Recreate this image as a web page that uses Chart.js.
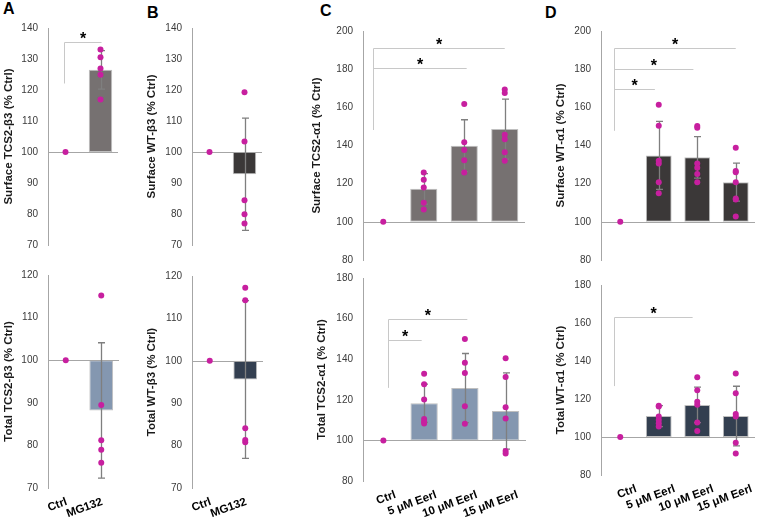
<!DOCTYPE html>
<html>
<head>
<meta charset="utf-8">
<script src="https://cdn.jsdelivr.net/npm/chart.js@4.4.1/dist/chart.umd.min.js"></script>
<style>
  html, body { margin: 0; padding: 0; background: #fff; }
  #fig { position: relative; width: 760px; height: 523px; overflow: hidden; font-family: 'Liberation Sans', Arial, sans-serif; }
  #fig canvas { position: absolute; }
  .letter { position: absolute; font-weight: bold; font-size: 16px; line-height: 16px; color: #000; }
</style>
</head>
<body>
<div id="fig">
  <div class="letter" style="left:3px;top:1px">A</div>
  <div class="letter" style="left:147px;top:5px">B</div>
  <div class="letter" style="left:320px;top:3px">C</div>
  <div class="letter" style="left:545px;top:5px">D</div>
</div>
<script>
'use strict';
const twoGroups = ['Ctrl', 'MG132'];
const fourGroups = ['Ctrl', '5 μM Eerl', '10 μM Eerl', '15 μM Eerl'];

// A - beta3 TCS2 (surface / total)
const surfTcsB3Mean = [100, 126.5];
const surfTcsB3Sd = [0, 6.2];
const surfTcsB3Pts = [[100], [133.1, 130.6, 126.9, 124.9, 116.9]];
const totTcsB3Mean = [100, 88.2];
const totTcsB3Sd = [0, 15.9];
const totTcsB3Pts = [[100], [115.2, 89.5, 81.2, 79.0, 75.9]];

// B - beta3 WT
const surfWtB3Mean = [100, 92.8];
const surfWtB3Sd = [0, 18.1];
const surfWtB3Pts = [[100], [119.3, 103.4, 84.4, 79.9, 76.9]];
const totWtB3Mean = [100, 95.6];
const totWtB3Sd = [0, 18.6];
const totWtB3Pts = [[100], [117.2, 114.3, 84.1, 81.3, 80.8]];

// C - alpha1 TCS2
const surfTcsA1Mean = [100, 117.3, 139.9, 148.6];
const surfTcsA1Sd = [0, 8.0, 13.6, 15.7];
const surfTcsA1Pts = [[100], [125.8, 122.1, 118.0, 110.0, 106.4], [161.8, 141.7, 137.6, 132.3, 125.8], [169.3, 167.5, 145.6, 143.3, 136.4, 132.0]];
const totTcsA1Mean = [100, 118.3, 125.8, 114.5];
const totTcsA1Sd = [0, 9.4, 17.0, 18.8];
const totTcsA1Pts = [[100], [132.8, 127.7, 120.2, 110.5, 109.3, 108.3], [150.0, 138.2, 133.2, 116.8, 108.2], [140.5, 131.2, 116.3, 110.8, 94.8, 93.5]];

// D - alpha1 WT
const surfWtA1Mean = [100, 134.8, 133.8, 120.8];
const surfWtA1Sd = [0, 17.8, 10.9, 10.0];
const surfWtA1Pts = [[100], [161.3, 150.3, 132.0, 130.6, 120.8, 115.0], [150.2, 149.3, 130.6, 128.3, 125.1, 120.8], [138.8, 126.7, 126.0, 120.8, 112.2, 111.7, 102.8]];
const totWtA1Mean = [100, 111.0, 116.9, 111.0];
const totWtA1Sd = [0, 5.5, 9.3, 15.7];
const totWtA1Pts = [[100], [116.5, 116.0, 110.8, 108.9, 107.3, 105.5], [131.4, 124.6, 118.5, 117.0, 107.6, 103.2], [133.4, 123.0, 112.1, 110.8, 97.0, 91.3]];

// significance brackets: from/to in category units, level and foot in % Ctrl
const surfTcsB3Sig = [{from: -0.03, to: 1.03, level: 135.5, foot: 122.1}];
const surfTcsA1Sig = [{from: -0.26, to: 3.0, level: 191, foot: 148.2}, {from: -0.26, to: 2.06, level: 180.4, foot: 148.2}];
const totTcsA1Sig = [{from: 0.11, to: 2.06, level: 159.6, foot: 126}, {from: 0.11, to: 0.94, level: 149.6, foot: 126}];
const surfWtA1Sig = [{from: -0.16, to: 3.0, level: 191, foot: 147.9}, {from: -0.16, to: 1.9, level: 180.2, foot: 147.9}, {from: -0.16, to: 0.9, level: 169.4, foot: 147.9}];
const totWtA1Sig = [{from: -0.15, to: 1.88, level: 163.3, foot: 126.8}];

const FONT = "'Liberation Sans', Arial, sans-serif";
const DOT = '#C71F9F';
const fig = document.getElementById('fig');

function extrasFor(mean, sd, sig) {
  return {
    id: 'extras',
    afterDatasetDraw(chart, args) {
      if (args.meta.type !== 'bar') return;
      const ctx = chart.ctx;
      const area = chart.chartArea;
      const x = chart.scales.x;
      const y = chart.scales.y;
      ctx.save();
      // the 100 % line
      const base = Math.round(y.getPixelForValue(100)) + 0.5;
      ctx.strokeStyle = '#A6A6A6';
      ctx.lineWidth = 1;
      ctx.beginPath();
      ctx.moveTo(area.left, base);
      ctx.lineTo(area.right, base);
      ctx.stroke();
      // error bars
      ctx.strokeStyle = '#7F7F7F';
      ctx.lineWidth = 1.3;
      sd.forEach((s, i) => {
        if (!s) return;
        const px = Math.round(x.getPixelForValue(i)) + 0.5;
        const hi = y.getPixelForValue(mean[i] + s);
        const lo = y.getPixelForValue(mean[i] - s);
        ctx.beginPath();
        ctx.moveTo(px, hi); ctx.lineTo(px, lo);
        ctx.moveTo(px - 3.5, hi); ctx.lineTo(px + 3.5, hi);
        ctx.moveTo(px - 3.5, lo); ctx.lineTo(px + 3.5, lo);
        ctx.stroke();
      });
      ctx.restore();
    },
    afterDraw(chart) {
      if (!sig) return;
      const ctx = chart.ctx;
      const x = chart.scales.x;
      const y = chart.scales.y;
      ctx.save();
      sig.forEach(b => {
        const x0 = Math.round(x.getPixelForValue(b.from)) + 0.5;
        const x1 = x.getPixelForValue(b.to);
        const yl = Math.round(y.getPixelForValue(b.level)) + 0.5;
        const yf = y.getPixelForValue(b.foot);
        ctx.strokeStyle = '#C8C8C8';
        ctx.lineWidth = 1;
        ctx.beginPath();
        ctx.moveTo(x0, yf);
        ctx.lineTo(x0, yl);
        ctx.lineTo(x1, yl);
        ctx.stroke();
        ctx.fillStyle = '#000';
        ctx.font = 'bold 16px ' + FONT;
        ctx.textAlign = 'center';
        ctx.textBaseline = 'alphabetic';
        ctx.fillText('*', (x0 + x1) / 2, yl + 1);
      });
      ctx.restore();
    }
  };
}

function makePanel(p) {
  const canvasTop = p.top - 17;
  const width = p.right - p.left;
  const height = p.labels ? 523 - canvasTop + 2 : p.bottom - p.top + 34;
  const xH = 523 - p.bottom;
  const cv = document.createElement('canvas');
  cv.width = width;
  cv.height = height;
  cv.style.left = p.left + 'px';
  cv.style.top = canvasTop + 'px';
  fig.appendChild(cv);

  const cats = p.cats;
  const pointData = [];
  p.pts.forEach((arr, i) => arr.forEach(v => pointData.push({x: cats[i], y: v})));

  new Chart(cv.getContext('2d'), {
    type: 'bar',
    data: {
      labels: cats,
      datasets: [{
        type: 'line',
        order: 0,
        data: pointData,
        showLine: false,
        pointRadius: 3,
        pointHoverRadius: 3,
        pointBorderWidth: 0,
        pointBackgroundColor: DOT,
        pointBorderColor: DOT
      }, {
        type: 'bar',
        order: 1,
        data: p.mean.map((m, i) => i === 0 ? null : [100, m]),
        backgroundColor: p.color,
        borderColor: '#BFBFBF',
        borderWidth: 1,
        borderSkipped: false,
        barPercentage: 0.67,
        categoryPercentage: 1
      }]
    },
    options: {
      responsive: false,
      animation: false,
      layout: {padding: {left: 0, right: 0, top: 10, bottom: p.labels ? 0 : 10}},
      plugins: {legend: {display: false}, tooltip: {enabled: false}},
      scales: {
        x: {
          display: !!p.labels,
          grid: {display: false, drawTicks: false},
          border: {display: false},
          ticks: {
            minRotation: 20, maxRotation: 20, autoSkip: false,
            padding: 7, labelOffset: p.labelShift,
            color: '#000', font: {family: FONT, size: 11.5, weight: 'bold'}
          },
          afterFit(s) { if (p.labels) s.height = xH; }
        },
        y: {
          min: p.min, max: p.max,
          grid: {display: false, drawTicks: false},
          border: {display: true, color: '#A6A6A6', width: 1},
          ticks: {stepSize: p.step, padding: 10, color: '#3A3A3A', font: {family: FONT, size: 10}},
          title: {display: true, text: p.title, padding: 0, color: '#1A1A1A', font: {family: FONT, size: 11.5, weight: 'bold'}},
          afterFit(s) { s.width = p.axisX - p.left; }
        }
      }
    },
    plugins: [extrasFor(p.mean, p.sd, p.sig)]
  });
}

const GREY = '#767171';
const DARK = '#3B3838';
const STEEL = '#8497B0';
const NAVY = '#333F50';

makePanel({left: 2, axisX: 48, right: 121, top: 29, bottom: 244, min: 70, max: 140, step: 10,
  cats: twoGroups, mean: surfTcsB3Mean, sd: surfTcsB3Sd, pts: surfTcsB3Pts, sig: surfTcsB3Sig,
  color: GREY, title: 'Surface TCS2-β3 (% Ctrl)'});
makePanel({left: 145, axisX: 192, right: 265, top: 29, bottom: 244, min: 70, max: 140, step: 10,
  cats: twoGroups, mean: surfWtB3Mean, sd: surfWtB3Sd, pts: surfWtB3Pts,
  color: DARK, title: 'Surface WT-β3 (% Ctrl)'});
makePanel({left: 310, axisX: 363, right: 528, top: 32, bottom: 259, min: 80, max: 200, step: 20,
  cats: fourGroups, mean: surfTcsA1Mean, sd: surfTcsA1Sd, pts: surfTcsA1Pts, sig: surfTcsA1Sig,
  color: GREY, title: 'Surface TCS2-α1 (% Ctrl)'});
makePanel({left: 554, axisX: 601, right: 758, top: 32, bottom: 259, min: 80, max: 200, step: 20,
  cats: fourGroups, mean: surfWtA1Mean, sd: surfWtA1Sd, pts: surfWtA1Pts, sig: surfWtA1Sig,
  color: DARK, title: 'Surface WT-α1 (% Ctrl)'});

makePanel({left: 2, axisX: 48, right: 122, top: 276, bottom: 486, min: 70, max: 120, step: 10,
  cats: twoGroups, mean: totTcsB3Mean, sd: totTcsB3Sd, pts: totTcsB3Pts, labels: true, labelShift: 1,
  color: STEEL, title: 'Total TCS2-β3 (% Ctrl)'});
makePanel({left: 145, axisX: 192, right: 266, top: 277, bottom: 486, min: 70, max: 120, step: 10,
  cats: twoGroups, mean: totWtB3Mean, sd: totWtB3Sd, pts: totWtB3Pts, labels: true, labelShift: 1,
  color: NAVY, title: 'Total WT-β3 (% Ctrl)'});
makePanel({left: 315, axisX: 363, right: 529, top: 279, bottom: 479, min: 80, max: 180, step: 20,
  cats: fourGroups, mean: totTcsA1Mean, sd: totTcsA1Sd, pts: totTcsA1Pts, sig: totTcsA1Sig, labels: true, labelShift: 12,
  color: STEEL, title: 'Total TCS2-α1 (% Ctrl)'});
makePanel({left: 554, axisX: 601, right: 758, top: 286, bottom: 473, min: 80, max: 180, step: 20,
  cats: fourGroups, mean: totWtA1Mean, sd: totWtA1Sd, pts: totWtA1Pts, sig: totWtA1Sig, labels: true, labelShift: 16,
  color: NAVY, title: 'Total WT-α1 (% Ctrl)'});
</script>
</body>
</html>
